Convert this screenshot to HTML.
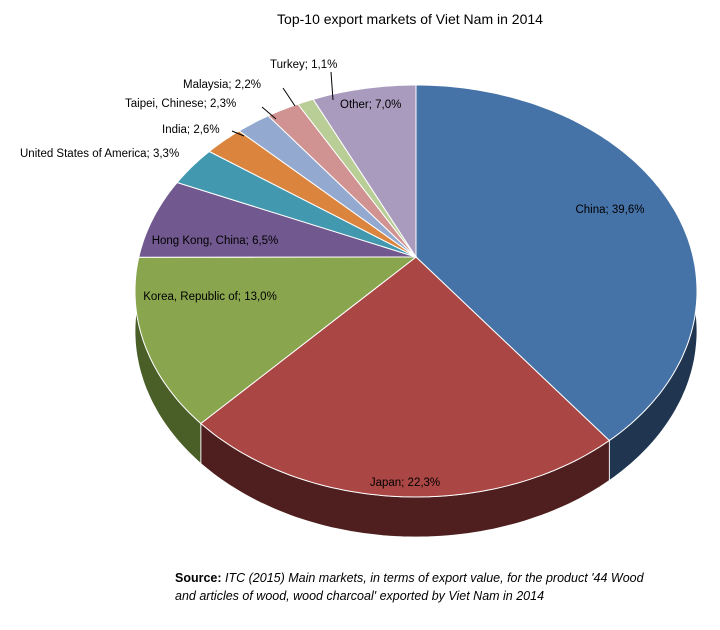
<!DOCTYPE html>
<html><head><meta charset="utf-8"><style>
body{margin:0;background:#fff;width:720px;height:625px;overflow:hidden;font-family:"Liberation Sans",sans-serif}
svg text{font-family:"Liberation Sans",sans-serif}
</style></head><body>
<svg id="chart" width="720" height="625" xmlns="http://www.w3.org/2000/svg">
<text x="410" y="24" text-anchor="middle" font-size="14">Top-10 export markets of Viet Nam in 2014</text>
<g id="sides"></g><g id="tops"></g><g id="labels"></g>
<text x="175" y="582" font-size="12.5"><tspan font-weight="bold">Source:</tspan><tspan font-style="italic"> ITC (2015) Main markets, in terms of export value, for the product '44 Wood</tspan></text>
<text x="175" y="600" font-size="12.5" font-style="italic">and articles of wood, wood charcoal' exported by Viet Nam in 2014</text>
</svg>
<script>
const categories=["China","Japan","Korea, Republic of","Hong Kong, China","United States of America","India","Taipei, Chinese","Malaysia","Turkey","Other"];
const values=[39.6,22.3,13.0,6.5,3.3,2.6,2.3,2.2,1.1,7.0];
const labels=["39,6%","22,3%","13,0%","6,5%","3,3%","2,6%","2,3%","2,2%","1,1%","7,0%"];
const colors=["#4572A7","#AA4643","#89A54E","#71588F","#4198AF","#DB843D","#93A9CF","#D19392","#B9CD96","#A99BBD"];
const sideColors=["#1F3550","#4E1F1E","#4A5E28","#3C2E4E","#1F5563","#7A4520","#4F6078","#7A4E4D","#6A7850","#5E5470"];
const layout=[[610,213,"middle",null],[405,486,"middle",null],[210,300,"middle",null],[215,244,"middle",null],
[20,157,"start",null],[162,133,"start",[232,131,244,136]],[125,107,"start",[262,107,276,119]],[183,88,"start",[283,88,295,106]],[270,68,"start",[331,72,333,100]],[340,108,"start",null]];
const cx=416,cc=257,k=0.165,Sx=281*Math.sqrt(1-k*k),Sy=206*(1-k*k),depth=40,NS="http://www.w3.org/2000/svg";
const total=values.reduce((a,b)=>a+b,0);
function pt(t,dy){const a=Math.sin(t),b=-Math.cos(t),w=1-k*b;return [cx+Sx*a/w,cc+Sy*b/w+(dy||0)];}
function arcPts(a,b,dy){const p=[];const n=Math.max(2,Math.ceil((b-a)/0.02));for(let i=0;i<=n;i++)p.push(pt(a+(b-a)*i/n,dy));return p;}
const sides=document.getElementById('sides'),tops=document.getElementById('tops'),lg=document.getElementById('labels');
let acc=0;const ranges=[];
values.forEach(v=>{const a=acc/total*2*Math.PI;acc+=v;ranges.push([a,acc/total*2*Math.PI]);});
ranges.forEach(([a,b],i)=>{
 const top=arcPts(a,b,0),bot=arcPts(a,b,depth).reverse();
 const p=document.createElementNS(NS,'path');
 
 
 p.setAttribute('d','M'+top.concat(bot).map(q=>q[0].toFixed(1)+','+q[1].toFixed(1)).join('L')+'Z');
 p.setAttribute('fill',sideColors[i]);p.setAttribute('stroke','#fff');p.setAttribute('stroke-width','0.8');sides.appendChild(p);
});
ranges.forEach(([a,b],i)=>{
 const pts=arcPts(a,b,0);
 const p=document.createElementNS(NS,'path');
 
 
 p.setAttribute('d','M'+cx+','+cc+'L'+pts.map(q=>q[0].toFixed(1)+','+q[1].toFixed(1)).join('L')+'Z');
 p.setAttribute('fill',colors[i]);p.setAttribute('stroke','#fff');p.setAttribute('stroke-width','1');tops.appendChild(p);
 const L=layout[i];
 if(L[3]){const l=document.createElementNS(NS,'line');
  
  
  l.setAttribute('x1',L[3][0]);l.setAttribute('y1',L[3][1]);l.setAttribute('x2',L[3][2]);l.setAttribute('y2',L[3][3]);
  l.setAttribute('stroke','#000');l.setAttribute('stroke-width','1');lg.appendChild(l);}
 const t=document.createElementNS(NS,'text');
 
 
 t.setAttribute('x',L[0]);t.setAttribute('y',L[1]);t.setAttribute('text-anchor',L[2]);t.setAttribute('font-size','11.5');
 t.textContent=categories[i]+'; '+labels[i];lg.appendChild(t);
});
</script>
</body></html>
